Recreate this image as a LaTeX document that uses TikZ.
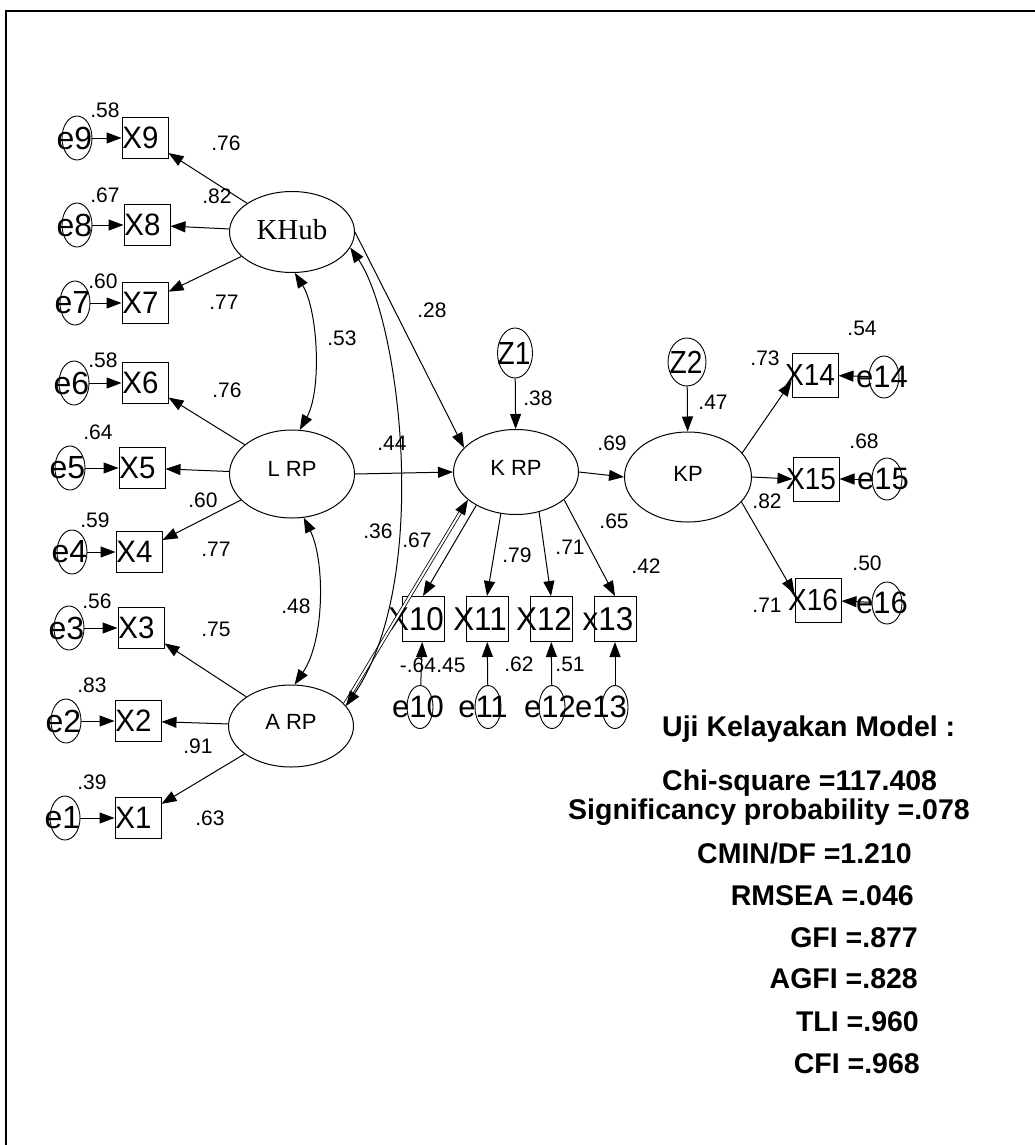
\documentclass[tikz,border=0pt]{standalone}
\usepackage{fontspec}
\usepackage{graphicx}
\setmainfont{Liberation Sans}
\newfontfamily\serifkh{Liberation Serif}
\usetikzlibrary{arrows.meta,shapes.geometric}
\newcommand\ovl[2]{\makebox[0pt]{\hspace*{#1}#2}}
\newcommand\xl[1]{\ovl{-9pt}{\scalebox{0.95}[1]{\fontsize{31}{33}\selectfont #1}}}
\newcommand\xm[1]{\ovl{-14pt}{\scalebox{0.95}[1]{\fontsize{33}{35}\selectfont #1}}}
\newcommand\xr[1]{\ovl{-10pt}{\scalebox{0.92}[1]{\fontsize{30.5}{32}\selectfont #1}}}
\newcommand\el[2][-5pt]{\ovl{#1}{\fontsize{32}{34}\selectfont #2}}
\newcommand\eb[2][-4pt]{\ovl{#1}{\fontsize{31}{33}\selectfont #2}}
\newcommand\zl[1]{\ovl{-2pt}{\scalebox{0.88}[1]{\fontsize{32}{34}\selectfont #1}}}
\tikzset{
  lat/.style={draw, ellipse, line width=1pt, minimum width=125pt, minimum height=85pt, inner sep=0pt, font=\fontsize{22}{24}\selectfont},
  err/.style={draw, ellipse, line width=0.9pt, minimum width=30pt, minimum height=44pt, inner sep=0pt},
  errb/.style={draw, ellipse, line width=0.9pt, minimum width=26pt, minimum height=43pt, inner sep=0pt},
  obs/.style={draw, rectangle, line width=1pt, minimum width=46pt, minimum height=41pt, inner sep=0pt},
  obsb/.style={draw, rectangle, line width=1pt, minimum width=42pt, minimum height=45pt, inner sep=0pt},
  num/.style={inner sep=0pt, font=\fontsize{21}{23}\selectfont},
  stat/.style={inner sep=0pt, font=\fontsize{28.5}{30}\selectfont\bfseries},
  arr/.style={-{Triangle[length=15pt,width=11pt]}, line width=1pt},
  covar/.style={{Triangle[length=15pt,width=11pt]}-{Triangle[length=15pt,width=11pt]}, line width=1pt},
}
\begin{document}
\begin{tikzpicture}[x=1pt,y=-1pt]
\useasboundingbox (0,0) rectangle (1035,1145);
\fill[white] (0,0) rectangle (1035,1145);
% frame
\draw[line width=2.5pt] (5,11) -- (1035,11);
\draw[line width=2pt] (6,11) -- (6,1145);

% latent variables
\node[lat, minimum height=81pt, font=\serifkh\fontsize{29}{31}\selectfont] (KHub) at (292,232) {\raisebox{5pt}{KHub}};
\node[lat, minimum height=88pt] (LRP) at (292,474) {\raisebox{10pt}{L RP}};
\node[lat, minimum height=82pt] (ARP) at (291,726) {\raisebox{8pt}{A RP}};
\node[lat] (KRP) at (516,472) {\raisebox{9pt}{K RP}};
\node[lat, minimum width=127pt, minimum height=90pt] (KP) at (688,477) {\raisebox{7pt}{KP}};

% disturbances
\node[err, minimum width=35pt, minimum height=50pt] (Z1) at (515,353) {\zl{Z1}};
\node[err, minimum width=38pt, minimum height=48pt] (Z2) at (687,362) {\zl{Z2}};

% left indicators
\node[obs] (X9) at (145,138) {\xl{X9}};
\node[obs] (X8) at (147,225) {\xl{X8}};
\node[obs] (X7) at (145,303) {\xl{X7}};
\node[obs] (X6) at (145,383) {\xl{X6}};
\node[obs] (X5) at (142,468) {\xl{X5}};
\node[obs] (X4) at (139,552) {\xl{X4}};
\node[obs] (X3) at (141,628) {\xl{X3}};
\node[obs] (X2) at (138,721) {\xl{X2}};
\node[obs] (X1) at (138,818) {\xl{X1}};

\node[err] (e9) at (77,138) {\el{e9}};
\node[err] (e8) at (77,225) {\el{e8}};
\node[err] (e7) at (75,303) {\el{e7}};
\node[err] (e6) at (74,383) {\el{e6}};
\node[err] (e5) at (70,468) {\el{e5}};
\node[err] (e4) at (72,552) {\el{e4}};
\node[err] (e3) at (69,628) {\el{e3}};
\node[err] (e2) at (66,721) {\el{e2}};
\node[err] (e1) at (65,818) {\el{e1}};

% bottom indicators
\node[obsb] (X10) at (423,619) {\xm{X10}};
\node[obsb] (X11) at (487,619) {\xm{X11}};
\node[obsb] (X12) at (551,619) {\xm{X12}};
\node[obsb] (X13) at (615,619) {\xm{x13}};
\node[errb] (e10) at (420,707) {\eb[-4pt]{e10}};
\node[errb] (e11) at (488,707) {\eb[-10pt]{e11}};
\node[errb] (e12) at (552,707) {\eb[-4pt]{e12}};
\node[errb] (e13) at (615,707) {\eb[-28pt]{e13}};

% right indicators
\node[obs, minimum height=44pt] (X14) at (815,375) {\xr{X14}};
\node[obs, minimum height=44pt] (X15) at (816,479) {\xr{X15}};
\node[obs, minimum height=44pt] (X16) at (818,600) {\xr{X16}};
\node[err, minimum height=42pt] (e14) at (884,377) {\eb[-4pt]{e14}};
\node[err, minimum height=42pt] (e15) at (887,479) {\eb[-8pt]{e15}};
\node[err, minimum height=42pt] (e16) at (887,603) {\eb[-10pt]{e16}};

% error arrows
\foreach \i in {1,...,16} {\draw[arr] (e\i) -- (X\i);}
\draw[arr] (Z1) -- (KRP);
\draw[arr] (Z2) -- (KP);

% measurement paths
\draw[arr] (KHub) -- (X9);
\draw[arr] (KHub) -- (X8);
\draw[arr] (KHub) -- (X7);
\draw[arr] (LRP) -- (X6);
\draw[arr] (LRP) -- (X5);
\draw[arr] (LRP) -- (X4);
\draw[arr] (ARP) -- (X3);
\draw[arr] (ARP) -- (X2);
\draw[arr] (ARP) -- (X1);
\draw[arr] (KRP.-140) -- (X10.north);
\draw[arr] (KRP.-110) -- (X11.north);
\draw[arr] (KRP.-60) -- (X12.north);
\draw[arr] (KRP.-30) -- (X13.north);
\draw[arr] (KP.24) -- (X14.195);
\draw[arr] (KP.east) -- (X15.west);
\draw[arr] (KP.-25) -- (X16.165);

% structural paths
\draw[arr] (KHub.east) -- (KRP.155);
\draw[arr] (LRP.east) -- (KRP.west);
\draw[arr, double, double distance=2pt, line width=0.8pt] (ARP.22) -- (KRP.-150);
\draw[arr] (KRP.east) -- (KP.west);

% covariances
\draw[covar] (KHub.-86) .. controls (318,310) and (322,390) .. (LRP.80);
\draw[covar] (LRP.-75) .. controls (325,560) and (325,640) .. (ARP.85);
\draw[covar] (KHub.-15) .. controls (400,320) and (432,580) .. (ARP.20);

% coefficient labels
\node[num] (n1) at (105,110) {.58};
\node[num] (n2) at (105,195) {.67};
\node[num] (n3) at (103,281) {.60};
\node[num] (n4) at (103,360) {.58};
\node[num] (n5) at (98,432) {.64};
\node[num] (n6) at (95,520) {.59};
\node[num] (n7) at (97,601) {.56};
\node[num] (n8) at (92,685) {.83};
\node[num] (n9) at (92,782) {.39};
\node[num] (n10) at (226,143) {.76};
\node[num] (n11) at (217,196) {.82};
\node[num] (n12) at (224,302) {.77};
\node[num] (n13) at (227,390) {.76};
\node[num] (n14) at (203,500) {.60};
\node[num] (n15) at (216,549) {.77};
\node[num] (n16) at (216,629) {.75};
\node[num] (n17) at (198,746) {.91};
\node[num] (n18) at (210,818) {.63};
\node[num] (n19) at (342,338) {.53};
\node[num] (n20) at (296,606) {.48};
\node[num] (n21) at (392,443) {.44};
\node[num] (n22) at (378,531) {.36};
\node[num] (n23) at (417,540) {.67};
\node[num] (n24) at (432,310) {.28};
\node[num] (n25) at (538,398) {.38};
\node[num] (n26) at (612,443) {.69};
\node[num] (n27) at (517,555) {.79};
\node[num] (n28) at (570,547) {.71};
\node[num] (n29) at (614,521) {.65};
\node[num] (n30) at (646,566) {.42};
\node[num] (n31) at (418,665) {-.64};
\node[num] (n32) at (451,665) {.45};
\node[num] (n33) at (519,664) {.62};
\node[num] (n34) at (570,664) {.51};
\node[num] (n35) at (713,402) {.47};
\node[num] (n36) at (765,358) {.73};
\node[num] (n37) at (767,501) {.82};
\node[num] (n38) at (767,605) {.71};
\node[num] (n39) at (862,328) {.54};
\node[num] (n40) at (864,441) {.68};
\node[num] (n41) at (867,563) {.50};

% fit statistics
\node[stat, anchor=base west] (uji) at (662,736) {Uji Kelayakan Model :};
\node[stat, anchor=base west] (chi) at (662,790) {Chi-square =117.408};
\node[stat, anchor=base west] (sig) at (568,819) {Significancy probability =.078};
\node[stat, anchor=base east] (cmin) at (912,863) {CMIN/DF =1.210};
\node[stat, anchor=base east] (rmsea) at (914,905) {RMSEA =.046};
\node[stat, anchor=base east] (gfi) at (918,947) {GFI =.877};
\node[stat, anchor=base east] (agfi) at (918,988) {AGFI =.828};
\node[stat, anchor=base east] (tli) at (919,1031) {TLI =.960};
\node[stat, anchor=base east] (cfi) at (920,1073) {CFI =.968};
\end{tikzpicture}
\end{document}
